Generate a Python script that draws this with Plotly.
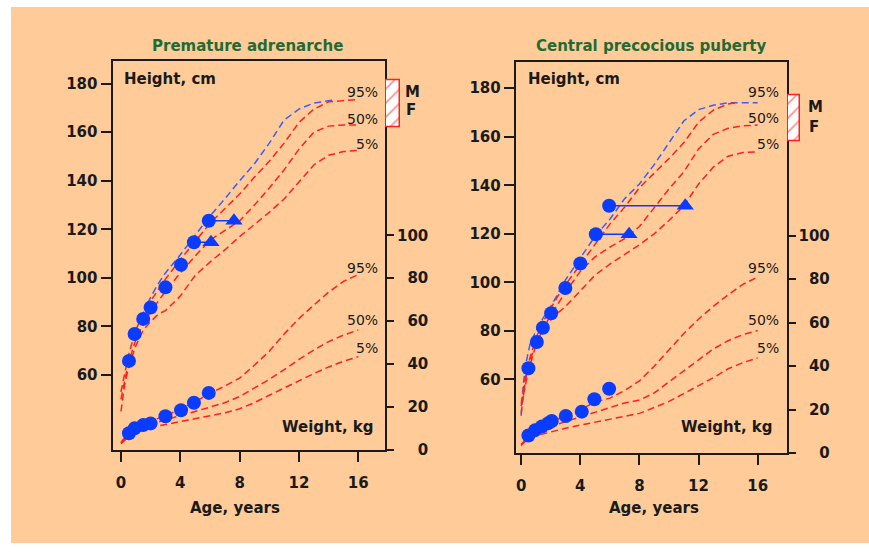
import plotly.graph_objects as go

W, H = 869, 552
def fx(p): return p / W
def fy(p): return 1 - p / H

RED = "#FF1F1F"
BLUE_LINE = "#3A5BFF"
BLUE_MK = "#0A3CFF"
INK = "#1a1a1a"
PEACH = "#FFCC99"
GREEN = "#1E6B35"
DASH = "7px,4px"

# ---------------- data: left panel (Premature adrenarche) ----------------
age_h_L = [0, 0.25, 0.5, 1, 1.5, 2, 2.5, 3, 4, 5, 6, 7, 8, 9, 10, 11, 12, 13, 14, 15, 16]
h95_L = [53, 61, 68, 78.5, 85.5, 90.5, 95, 99.5, 107.5, 115, 122.5, 128.5, 134.5, 141.5, 148, 155.5, 164, 169.5, 172.5, 173, 173.5]
h50_L = [50, 58, 65, 74.5, 81, 86, 90.5, 94.5, 102, 109, 115.5, 119.5, 123.5, 130, 137, 144.5, 153, 160, 162.5, 163, 163]
h5_L = [45, 56, 63, 72, 78.5, 82, 85, 86.5, 92.5, 101, 106.5, 111.5, 117, 122, 127, 132.5, 139.5, 146.5, 150.5, 152, 152.5]
age_hb_L = [1.8, 2, 2.5, 3, 4, 5, 6, 7, 8, 9, 10, 11, 12, 13, 14, 14.3]
hb_L = [89.5, 92, 97.5, 102, 109.5, 117.5, 125.5, 132.5, 140, 147, 155.5, 165, 169.5, 172, 173, 173.2]

age_w = [0, 0.5, 1, 2, 3, 4, 5, 6, 7, 8, 9, 10, 11, 12, 13, 14, 15, 16]
w95_L = [3.5, 8, 10.5, 13.5, 16, 19, 22.5, 26.4, 29.8, 33.5, 39.5, 46, 54, 61.2, 67.5, 73.5, 78.5, 81.7]
w50_L = [3.4, 6.5, 9, 12, 14, 16, 18, 20, 22, 24.9, 28.8, 32.9, 37.4, 42.2, 46.5, 50.5, 53.5, 55.9]
w5_L = [3, 6, 8, 10.5, 11.9, 13.2, 14.6, 15.9, 17.3, 19.2, 22.1, 25.5, 28.9, 32.2, 35.6, 38.7, 41.3, 43.5]

pt_age_L = [0.54, 0.92, 1.5, 2.0, 3.0, 4.05, 4.92, 5.92]
pt_ht_L = [65.8, 76.9, 83.1, 87.8, 96.1, 105.4, 114.7, 123.5]
pt_wt_L = [7.8, 10.1, 11.6, 12.4, 15.7, 18.5, 22.0, 26.6]
ba_chron_L = [4.92, 5.92]
ba_age_L = [6.07, 7.62]
ba_ht_L = [114.7, 123.5]
target_L = [162.0, 181.4]

# ---------------- data: right panel (Central precocious puberty) ----------------
age_h95_R = [0, 0.25, 0.5, 1, 1.5, 2, 2.5, 3, 4, 5, 6, 7, 8, 9, 10, 11, 12, 13, 14, 14.6]
h95_R = [50, 60, 67, 77, 84, 89.5, 94.5, 99, 107.5, 115.5, 124, 131, 139, 145, 151, 157.5, 166, 171, 173.5, 174]
age_h_R = [0, 0.25, 0.5, 1, 1.5, 2, 2.5, 3, 4, 5, 6, 7, 8, 9, 10, 11, 12, 13, 14, 15, 16]
h50_R = [49, 57, 64, 74, 81, 86.5, 91.5, 96, 104.5, 110.5, 114.5, 118, 123, 131, 138.5, 145.5, 155, 161, 163.5, 164.5, 164.8]
h5_R = [46, 58, 66, 75, 80.5, 84.5, 87.5, 90, 96.5, 103, 107.5, 111.5, 115.5, 120, 125.5, 131.5, 140.5, 147.5, 152, 153.5, 153.8]
age_hb_R = [0, 0.15, 0.3, 0.6, 1, 1.5, 2, 3, 4, 5, 6, 7, 8, 9, 10, 11, 12, 13, 14, 15, 16]
hb_R = [45, 58, 66, 74.5, 80, 85.5, 90, 101, 110, 119, 126, 134.5, 140.5, 148.5, 157.5, 166.5, 171.2, 173, 174, 174, 174]

w95_R = [3.5, 8.5, 11, 14.5, 17, 20, 23.5, 25.3, 28.8, 33.2, 40, 47.7, 55, 61.6, 67.5, 72.8, 77.6, 81]
w50_R = [4, 7.5, 9.8, 12.4, 14.5, 16.7, 19, 21.2, 23.1, 24.4, 27.7, 32.8, 37.8, 42.8, 47.9, 51.7, 54.5, 56.4]
w5_R = [4, 6.5, 8, 9.9, 11.5, 12.9, 14.2, 15.5, 16.9, 18.3, 21, 23.8, 27.4, 31.1, 34.7, 38.8, 41.6, 43.8]

pt_age_h_R = [0.49, 1.06, 1.47, 2.03, 2.99, 4.0, 5.05, 5.95]
pt_ht_R = [64.6, 75.4, 81.3, 87.3, 97.7, 107.8, 119.8, 131.6]
pt_age_w_R = [0.49, 0.95, 1.4, 1.84, 2.07, 3.02, 4.1, 4.95, 5.95]
pt_wt_R = [8.1, 10.6, 12.3, 13.8, 14.8, 17.1, 19.1, 24.8, 29.6]
ba_chron_R = [5.05, 5.95]
ba_age_R = [7.3, 11.1]
ba_ht_R = [119.8, 131.6]
target_R = [158.0, 177.2]

x_ticks = [0, 4, 8, 12, 16]
h_ticks = [60, 80, 100, 120, 140, 160, 180]
w_ticks = [0, 20, 40, 60, 80, 100]
w_ticktext = ["\u2007\u20070", "\u200720", "\u200740", "\u200760", "\u200780", "100"]
pct_labels = ["95%", "50%", "5%"]

fig = go.Figure()

def curve(x, y, xa, ya, color):
    fig.add_trace(go.Scatter(x=x, y=y, xaxis=xa, yaxis=ya, mode="lines",
                             line=dict(color=color, width=1.5, dash=DASH),
                             hoverinfo="skip", showlegend=False))

def patient(xa, ya_h, ya_w, ah, hh, aw, ww, bc, ba, bh):
    for c, b, h in zip(bc, ba, bh):
        fig.add_trace(go.Scatter(x=[c, b], y=[h, h], xaxis=xa, yaxis=ya_h, mode="lines",
                                 line=dict(color=BLUE_MK, width=1.5), showlegend=False, hoverinfo="skip"))
    fig.add_trace(go.Scatter(x=ah, y=hh, xaxis=xa, yaxis=ya_h, mode="markers",
                             marker=dict(symbol="circle", size=14, color=BLUE_MK), showlegend=False))
    fig.add_trace(go.Scatter(x=aw, y=ww, xaxis=xa, yaxis=ya_w, mode="markers",
                             marker=dict(symbol="circle", size=14, color=BLUE_MK), showlegend=False))
    fig.add_trace(go.Scatter(x=ba, y=bh, xaxis=xa, yaxis=ya_h, mode="markers",
                             marker=dict(symbol="triangle-up", size=15, color=BLUE_MK), showlegend=False))

# left panel
curve(age_hb_L, hb_L, "x", "y", BLUE_LINE)
for yy in (h95_L, h50_L, h5_L):
    curve(age_h_L, yy, "x", "y", RED)
for yy in (w95_L, w50_L, w5_L):
    curve(age_w, yy, "x", "y2", RED)
patient("x", "y", "y2", pt_age_L, pt_ht_L, pt_age_L, pt_wt_L, ba_chron_L, ba_age_L, ba_ht_L)

# right panel
curve(age_hb_R, hb_R, "x2", "y3", BLUE_LINE)
curve(age_h95_R, h95_R, "x2", "y3", RED)
for yy in (h50_R, h5_R):
    curve(age_h_R, yy, "x2", "y3", RED)
for yy in (w95_R, w50_R, w5_R):
    curve(age_w, yy, "x2", "y4", RED)
patient("x2", "y3", "y4", pt_age_h_R, pt_ht_R, pt_age_w_R, pt_wt_R, ba_chron_R, ba_age_R, ba_ht_R)

# target height bars (M/F)
for xa, ya, tgt in (("x3", "y5", target_L), ("x4", "y6", target_R)):
    fig.add_trace(go.Bar(x=[0], y=[tgt[1] - tgt[0]], base=[tgt[0]], width=[1], xaxis=xa, yaxis=ya,
                         marker=dict(color="white", line=dict(color=RED, width=1.5),
                                     pattern=dict(shape="/", fgcolor=RED, bgcolor="white", size=10, solidity=0.18)),
                         showlegend=False, hoverinfo="skip"))

tickfont = dict(family="DejaVu Sans", size=15, color=INK, weight="bold")
def xax(dom, rng, anchor):
    return dict(domain=dom, range=rng, anchor=anchor, tickvals=x_ticks, ticks="outside", ticklen=10,
                tickwidth=2, tickcolor=INK, showline=True, linewidth=2, linecolor=INK, mirror=True,
                showgrid=False, zeroline=False, tickfont=tickfont, fixedrange=True, ticklabelstandoff=8)
def yax(dom, rng, anchor):
    return dict(domain=dom, range=rng, anchor=anchor, tickvals=h_ticks, ticks="outside", ticklen=10,
                tickwidth=2, tickcolor=INK, showline=True, linewidth=2, linecolor=INK, mirror=True,
                showgrid=False, zeroline=False, tickfont=tickfont, fixedrange=True)
def wax(over, anchor, rng):
    return dict(overlaying=over, anchor=anchor, side="right", range=rng, tickvals=w_ticks, ticktext=w_ticktext,
                ticks="outside", ticklen=8, tickwidth=2, tickcolor=INK, showline=False, showgrid=False,
                zeroline=False, tickfont=tickfont, fixedrange=True)
def hid(dom, rng, anchor):
    return dict(domain=dom, range=rng, anchor=anchor, visible=False, fixedrange=True)

yL = [fy(457.5), fy(62.3)]
yR = [fy(460.7), fy(63.3)]
hrL = [29.1, 189.2]
hrR = [29.6, 190.7]

layout = dict(
    width=W, height=H, margin=dict(l=0, r=0, t=0, b=0),
    paper_bgcolor="white", plot_bgcolor="rgba(0,0,0,0)",
    xaxis=xax([fx(112.5), fx(385)], [-0.57, 17.8], "y"),
    yaxis=yax(yL, hrL, "x"),
    yaxis2=wax("y", "x", [0, 181]),
    xaxis2=xax([fx(515.7), fx(786.5)], [-0.37, 17.95], "y3"),
    yaxis3=yax(yR, hrR, "x2"),
    yaxis4=wax("y3", "x2", [0, 179.7]),
    xaxis3=hid([fx(385.0), fx(400.8)], [-0.55, 0.55], "y5"),
    yaxis5=hid(yL, hrL, "x3"),
    xaxis4=hid([fx(787.0), fx(801.0)], [-0.55, 0.55], "y6"),
    yaxis6=hid(yR, hrR, "x4"),
    bargap=0,
    shapes=[dict(type="rect", xref="paper", yref="paper", x0=fx(11), x1=1, y0=0, y1=fy(7),
                 fillcolor=PEACH, line=dict(width=0), layer="below")],
)
fig.update_layout(**layout)

def ann(text, x, y, xa="center", size=15, color=INK, bold=True, xref="paper", yref="paper"):
    fig.add_annotation(text=text, x=x, y=y, xref=xref, yref=yref, xanchor=xa, yanchor="middle",
                       showarrow=False,
                       font=dict(family="DejaVu Sans", size=size, color=color,
                                 weight="bold" if bold else "normal"))

ann("Premature adrenarche", fx(247.4), fy(46.7), "center", color=GREEN)
ann("Central precocious puberty", fx(651.3), fy(46.7), "center", color=GREEN)
ann("Height, cm", fx(121.5), fy(80.7), "left")
ann("Height, cm", fx(525.5), fy(80.7), "left")
ann("Weight, kg", fx(376), fy(434.3), "right")
ann("Weight, kg", fx(774.5), fy(434.3), "right")
ann("Age, years", fx(235), fy(516.7), "center")
ann("Age, years", fx(654), fy(516.7), "center")
ann("M", fx(402.5), fy(94), "left")
ann("F", fx(403.5), fy(111.5), "left")
ann("M", fx(806), fy(108.3), "left")
ann("F", fx(807), fy(129.3), "left")

# percentile labels (data coordinates)
for t, hv, wv in zip(pct_labels, [176.4, 165.6, 155.2], [84.7, 60.6, 47.6]):
    ann(t, 17.45, hv, "right", size=14, bold=False, xref="x", yref="y")
    ann(t, 17.45, wv, "right", size=14, bold=False, xref="x", yref="y2")
for t, hv, wv in zip(pct_labels, [178.5, 167.7, 156.9], [85.3, 61.4, 48.2]):
    ann(t, 17.55, hv, "right", size=14, bold=False, xref="x2", yref="y3")
    ann(t, 17.55, wv, "right", size=14, bold=False, xref="x2", yref="y4")

post = ("document.documentElement.style.margin='0';document.documentElement.style.overflow='hidden';"
        "document.body.style.margin='0';document.body.style.overflow='hidden';"
        "var g=document.getElementById('{plot_id}');g.style.position='fixed';g.style.left='0px';g.style.top='0px';")
fig.write_html("out.html", config={"displayModeBar": False}, post_script=post)
